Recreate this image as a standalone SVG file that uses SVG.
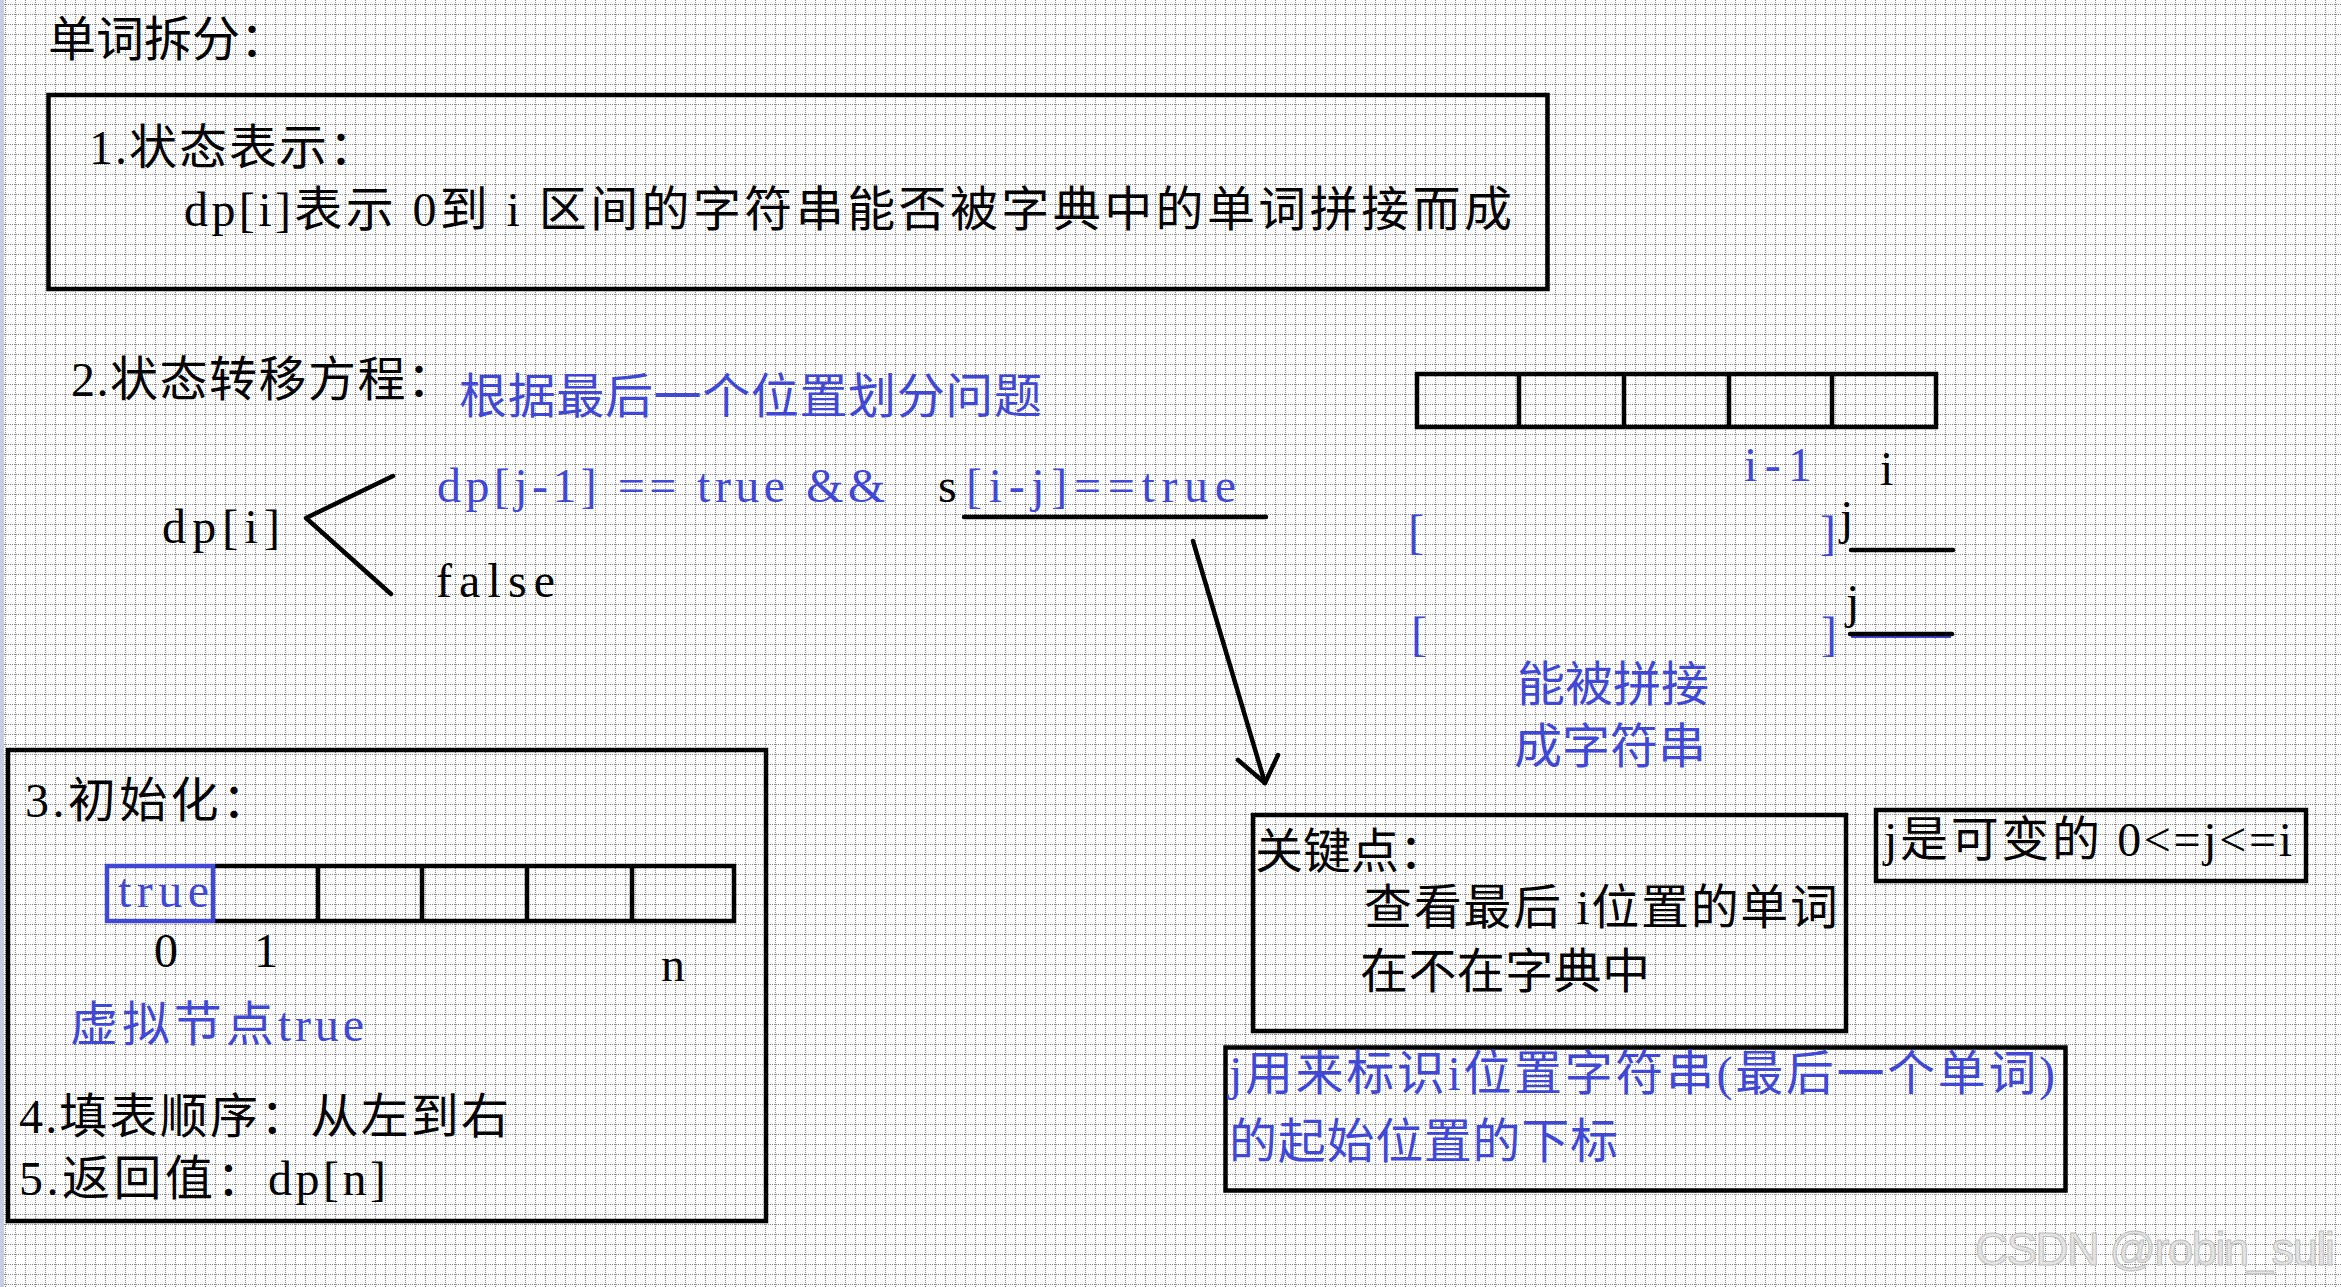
<svg xmlns="http://www.w3.org/2000/svg" width="2341" height="1287" viewBox="0 0 2341 1287">
<defs>
  <pattern id="grid" width="10" height="10" patternUnits="userSpaceOnUse">
    <path d="M5.5 0V10" stroke="#8a8a8a" stroke-width="1" stroke-dasharray="1 1" fill="none"/>
    <path d="M0 4.5H10" stroke="#8a8a8a" stroke-width="1" stroke-dasharray="1 1" fill="none"/>
  </pattern>
  <style>
    .t { font-family: "Liberation Serif", "Noto Sans CJK SC", serif; font-size: 48px; fill: #000; }
    .b { fill: #4149d4; }
    .box { fill: none; stroke: #000; stroke-width: 4.5; }
    .cell { fill: none; stroke: #000; stroke-width: 4.5; }
    .ln { fill: none; stroke: #000; stroke-width: 4.5; stroke-linecap: round; stroke-linejoin: round; }
    .wm { font-family: "Liberation Sans Narrow", "Liberation Sans", sans-serif; font-size: 46px; fill: #e4e4e4; stroke: #bdbdbd; stroke-width: 1; }
  </style>
</defs>

<rect x="0" y="0" width="2341" height="1287" fill="#ffffff"/>
<rect x="0" y="0" width="2341" height="1287" fill="url(#grid)"/>
<rect x="0" y="0" width="4" height="1287" fill="#c6cde2"/>

<g id="title">
  <text class="t" x="48" y="56" textLength="240">单词拆分：</text>
</g>

<g id="box-state">
  <rect class="box" x="48.5" y="95" width="1499" height="194"/>
  <text class="t" x="89" y="164" textLength="288">1.状态表示：</text>
  <text class="t" x="184" y="226" textLength="1328">dp[i]表示 0到 i 区间的字符串能否被字典中的单词拼接而成</text>
</g>

<g id="transition">
  <text class="t" x="71" y="396" textLength="384">2.状态转移方程：</text>
  <text class="t b" x="459" y="413" textLength="583">根据最后一个位置划分问题</text>
  <text class="t" x="162" y="543" textLength="118">dp[i]</text>
  <text class="t b" x="437" y="502" textLength="448">dp[j-1] == true &amp;&amp;</text>
  <text class="t" x="938" y="502">s</text>
  <text class="t b" x="966" y="502" textLength="270">[i-j]==true</text>
  <text class="t" x="436" y="597" textLength="119">false</text>
</g>

<g id="array-right">
  <rect class="cell" x="1417" y="374" width="519" height="53"/>
  <path class="cell" d="M1519 374V427M1624 374V427M1729 374V427M1832 374V427"/>
  <text class="t b" x="1744" y="481" textLength="68">i-1</text>
  <text class="t" x="1880" y="485">i</text>
</g>

<g id="ranges">
  <text class="t b" x="1408" y="548" font-size="50">[</text>
  <text class="t b" x="1820" y="549" font-size="50">]</text>
  <text class="t" x="1840" y="534" font-size="40">j</text>
  <text class="t b" x="1411" y="650" font-size="50">[</text>
  <text class="t b" x="1821" y="650" font-size="50">]</text>
  <text class="t" x="1846" y="618" font-size="40">j</text>
  <text class="t b" x="1517" y="701" textLength="192">能被拼接</text>
  <text class="t b" x="1514" y="763" textLength="192">成字符串</text>
</g>

<g id="box-init">
  <rect class="box" x="8" y="750" width="758" height="471"/>
  <text class="t" x="25" y="817" textLength="245">3.初始化：</text>
  <path class="cell" d="M215 866H734V921H215M318 866V921M422 866V921M527 866V921M632 866V921"/>
  <rect x="107" y="866" width="106" height="55" fill="none" stroke="#4149d4" stroke-width="4.5"/>
  <text class="t b" x="118" y="907" textLength="91">true</text>
  <text class="t" x="154" y="967">0</text>
  <text class="t" x="254" y="967">1</text>
  <text class="t" x="661" y="981">n</text>
  <text class="t b" x="70" y="1041" textLength="294">虚拟节点true</text>
  <text class="t" x="19" y="1133" textLength="490">4.填表顺序：从左到右</text>
  <text class="t" x="19" y="1195" textLength="367">5.返回值：dp[n]</text>
</g>

<g id="box-key">
  <rect class="box" x="1253" y="815" width="593" height="216"/>
  <text class="t" x="1255" y="868" textLength="192">关键点：</text>
  <text class="t" x="1364" y="924" textLength="474">查看最后 i位置的单词</text>
  <text class="t" x="1360" y="988" textLength="290">在不在字典中</text>
</g>

<g id="box-jrange">
  <rect class="box" x="1876" y="810" width="430" height="71" stroke-width="5"/>
  <text class="t" x="1884" y="856" textLength="408">j是可变的 0&lt;=j&lt;=i</text>
</g>

<g id="box-jmark">
  <rect class="box" x="1225.5" y="1047.5" width="840" height="143" stroke-width="5"/>
  <text class="t b" x="1229" y="1090" textLength="826">j用来标识i位置字符串(最后一个单词)</text>
  <text class="t b" x="1229" y="1158" textLength="389">的起始位置的下标</text>
</g>

<g id="connectors">
  <polyline class="ln" points="393,476 306,518 391,594"/>
  <line class="ln" x1="964" y1="517" x2="1266" y2="517"/>
  <line x1="1851" y1="637" x2="1951" y2="637" stroke="#4149d4" stroke-width="2"/>
  <line class="ln" x1="1851" y1="550" x2="1953" y2="550" stroke-width="4"/>
  <line class="ln" x1="1850" y1="634" x2="1952" y2="634" stroke-width="4"/>
  <line class="ln" x1="1193" y1="541" x2="1265" y2="783"/>
  <polyline class="ln" points="1238,760 1265,783 1278,755"/>
</g>

<text class="wm" x="1975" y="1265" textLength="360">CSDN @robin_suli</text>
</svg>
